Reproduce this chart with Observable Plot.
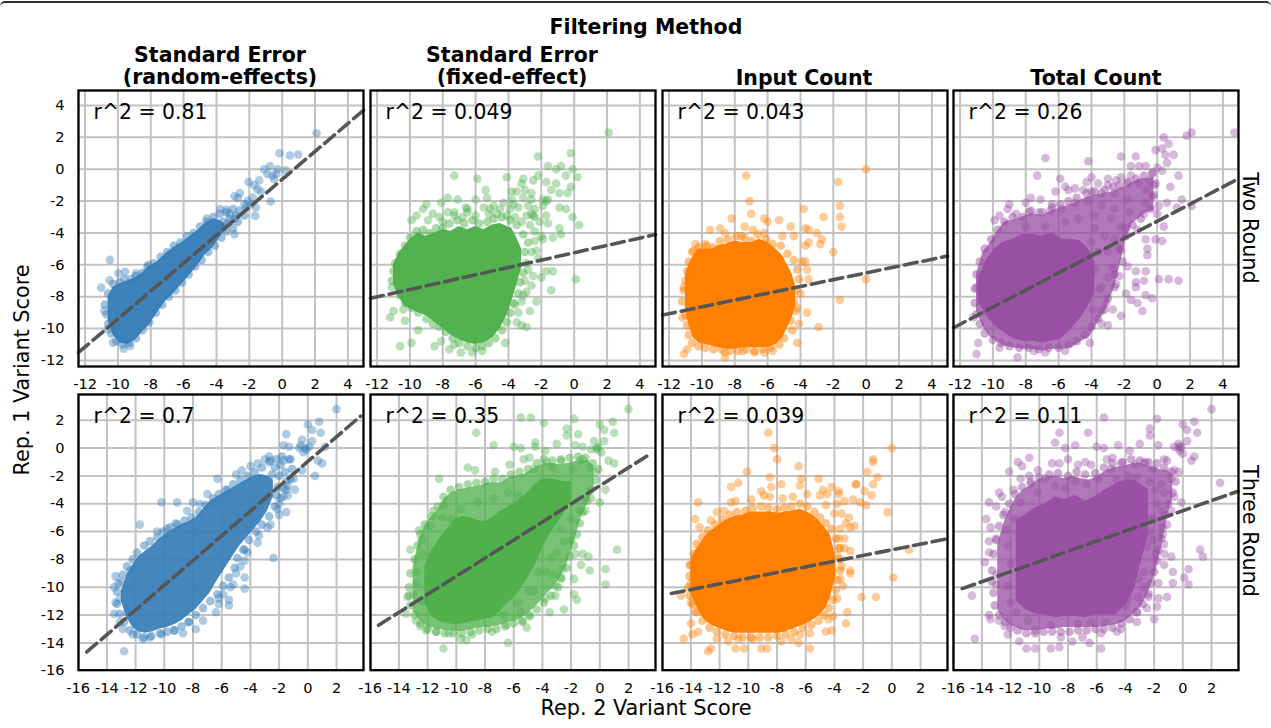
<!DOCTYPE html>
<html><head><meta charset="utf-8">
<script src="https://cdn.jsdelivr.net/npm/d3@7"></script>
<script src="https://cdn.jsdelivr.net/npm/@observablehq/plot@0.6"></script>
<style>
html,body{margin:0;padding:0;background:#fff}
#chart{position:relative;width:1271px;height:728px;overflow:hidden;font-family:"DejaVu Sans",sans-serif;color:#000}
#chart svg{position:absolute}
.t{position:absolute;white-space:nowrap;text-align:center;transform:translate(-50%,-50%);line-height:22px}
.b{font-weight:700}
#edge{position:absolute;left:0;right:0;top:1px;height:8px;border-top:2px solid #333;border-radius:5px 5px 0 0}
</style></head><body><div id="chart"><div id="edge"></div></div>
<script>
const colTitles = [["Standard Error","(random-effects)"],["Standard Error","(fixed-effect)"],["Input Count"],["Total Count"]];
const rowTitles = ["Two Round","Three Round"];
const colors = ["#377eb8","#4daf4a","#ff7f00","#984ea3"];
const r2Labels = [["0.81","0.049","0.043","0.26"],["0.7","0.35","0.039","0.11"]];
const topDomain = [-12.4,4.95], topDomainY = [-12.38,4.94];
const botDomain = [-15.98,3.88], botDomainY = [-15.96,3.85];
const topTicks = [-12,-10,-8,-6,-4,-2,0,2,4];
const botTicks = [-16,-14,-12,-10,-8,-6,-4,-2,0,2];
const coreOpacity = [[0.97,0.97,1,0.96],[0.93,0.96,1,0.95]];

const fits = [
 [[[-12.4,-11.5],[4.95,3.7]],[[-12.4,-8.1],[4.95,-4.1]],[[-12.4,-9.15],[4.95,-5.45]],[[-12.4,-9.95],[4.95,-0.6]]],
 [[[-15.4,-14.65],[3.68,2.3]],[[-15.42,-12.73],[3.55,-0.4]],[[-15.37,-10.45],[3.72,-6.55]],[[-15.37,-10.1],[3.85,-3.1]]]
];

// crowded core of each cloud, where the dots merge: x, lower edge, upper edge
const core11 = [[-10.6,-9.5,-8],[-10.3,-10.4,-7.4],[-9.9,-10.9,-7.2],[-9.4,-11,-7],[-8.9,-10.7,-6.8],[-8.5,-10.2,-6.5],[-8.1,-9.8,-6.1],[-7.6,-9,-5.8],[-7.1,-8.3,-5.3],[-6.6,-7.8,-4.9],[-6.1,-7.2,-4.6],[-5.6,-6.6,-4.2],[-5.1,-6,-3.8],[-4.7,-5.4,-3.4],[-4.2,-4.9,-3.1],[-3.8,-4.3,-3.2],[-3.5,-3.9,-3.4]];
const core12 = [[-11,-7.2,-6],[-10.7,-8,-5.3],[-10.3,-8.6,-4.8],[-9.9,-8.8,-4.3],[-9.5,-9,-4],[-9,-9.2,-4.2],[-8.5,-9.6,-4],[-8,-10,-3.8],[-7.5,-10.4,-3.9],[-7,-10.7,-3.6],[-6.5,-10.9,-3.8],[-6,-11,-3.6],[-5.5,-10.9,-3.8],[-5,-10.6,-3.5],[-4.5,-10,-3.4],[-4.1,-9.2,-3.6],[-3.8,-8.3,-3.7],[-3.5,-7.3,-4.3],[-3.2,-6.2,-5]];
const core13 = [[-11,-8.8,-6.6],[-10.8,-9.8,-6],[-10.5,-10.6,-5.4],[-10.2,-10.9,-5],[-9.8,-11,-5],[-9.4,-11.1,-5],[-9,-11.2,-4.8],[-8.5,-11.3,-4.7],[-8,-11.3,-4.5],[-7.5,-11.2,-4.6],[-7,-11.2,-4.6],[-6.5,-11.2,-4.4],[-6,-11.2,-4.6],[-5.5,-11,-5],[-5.1,-10.6,-5.4],[-4.8,-10,-6],[-4.5,-9.3,-6.6],[-4.3,-8.6,-7.3]];
const core14 = [[-10.9,-8.3,-6.9],[-10.4,-9.2,-5.7],[-9.9,-9.8,-5],[-9.4,-10.2,-4.6],[-8.8,-10.6,-4.4],[-8.2,-10.8,-4.1],[-7.6,-10.8,-4.1],[-7,-10.9,-4.2],[-6.4,-10.8,-4],[-5.8,-10.6,-4.4],[-5.2,-10,-4.4],[-4.7,-9.4,-4.5],[-4.2,-8.6,-5],[-3.8,-7.8,-5.8]];
const core21 = [[-13,-11,-10.3],[-12.6,-12.2,-9.1],[-12.2,-12.9,-8.4],[-11.8,-13.2,-7.8],[-11.3,-13.3,-7.4],[-10.8,-13.2,-7],[-10.3,-13,-6.5],[-9.8,-12.9,-6.1],[-9.3,-12.7,-5.8],[-8.8,-12.4,-5.5],[-8.3,-12,-5.3],[-7.8,-11.6,-5],[-7.3,-11,-4.4],[-6.8,-10.4,-3.8],[-6.3,-9.5,-3.5],[-5.8,-8.7,-3.2],[-5.3,-7.9,-2.9],[-4.8,-7.1,-2.6],[-4.3,-6.5,-2.3],[-3.8,-5.9,-2],[-3.3,-5.3,-1.9],[-2.8,-4.5,-2],[-2.4,-3.5,-2.3]];
const core22 = [[-12.2,-11.2,-8.5],[-11.7,-12.1,-7.3],[-11.1,-12.5,-6.4],[-10.6,-12.6,-5.8],[-10.1,-12.7,-5.1],[-9.5,-12.6,-4.9],[-9,-12.5,-5],[-8.5,-12.4,-5.2],[-8,-12.3,-5.3],[-7.5,-12.2,-5],[-7,-11.8,-4.6],[-6.5,-11.2,-4.3],[-6,-10.8,-4],[-5.5,-10.1,-3.6],[-5,-9.3,-3.2],[-4.5,-8.4,-2.6],[-4,-7.2,-2.2],[-3.5,-6.2,-2.2],[-3,-5.5,-2.3],[-2.5,-4.7,-2.4],[-2,-3.8,-2.4]];
const core23 = [[-14,-10.4,-8],[-13.7,-11.2,-7.4],[-13.3,-12,-6.8],[-12.9,-12.5,-6.2],[-12.4,-12.8,-5.8],[-11.9,-13,-5.4],[-11.4,-13.2,-5.1],[-10.9,-13.3,-4.9],[-10.4,-13.3,-4.8],[-9.9,-13.3,-4.6],[-9.4,-13.3,-4.6],[-8.9,-13.3,-4.6],[-8.4,-13.3,-4.6],[-7.9,-13.3,-4.7],[-7.4,-13.2,-4.6],[-6.9,-13,-4.5],[-6.4,-12.8,-4.4],[-5.9,-12.6,-4.6],[-5.4,-12.3,-4.9],[-5,-12,-5.3],[-4.6,-11.5,-5.8],[-4.3,-10.8,-6.2],[-4.1,-10,-7],[-3.9,-9.2,-8]];
const core24 = [[-11.6,-11,-5.2],[-11,-11.6,-4.8],[-10.3,-11.9,-4.3],[-9.6,-12,-4],[-8.9,-12.2,-3.5],[-8.2,-12.1,-3.7],[-7.5,-12.1,-3.4],[-6.8,-12.2,-3.8],[-6.1,-12,-3.5],[-5.4,-12,-3],[-4.7,-12,-2.6],[-4,-11.3,-2.3],[-3.4,-10.2,-2.3],[-2.9,-8.2,-2.6],[-2.4,-6.2,-3]];

// thinner part of the cloud around the core: x, lower edge, upper edge
const halo14 = [[-11,-8.9,-6.6],[-10.6,-9.9,-5.2],[-10.2,-10.5,-4.7],[-9.8,-10.8,-4],[-9.3,-11.1,-3.3],[-8.8,-11.2,-3.2],[-8.2,-11.3,-3],[-7.6,-11.3,-2.8],[-7,-11.4,-2.9],[-6.4,-11.3,-2.6],[-5.8,-11.3,-2.4],[-5.2,-11.2,-2.2],[-4.6,-10.8,-1.9],[-4.1,-10.5,-1.7],[-3.6,-9.6,-1.6],[-3.1,-8.8,-1.5],[-2.6,-7.4,-1.4],[-2.3,-6.2,-1.2],[-1.9,-4.4,-1.1],[-1.5,-3.4,-.8],[-1,-3,-.6],[-.6,-2.7,-.6],[-.2,-2.6,-.5]];
const halo22 = [[-13,-11.7,-8.5],[-12.6,-12.3,-6.6],[-12.2,-12.7,-5.6],[-11.8,-12.9,-5],[-11.3,-13,-4.5],[-10.8,-13.1,-3.6],[-10.3,-13.1,-3.2],[-9.8,-13.2,-3],[-9.3,-13.1,-2.9],[-8.8,-13,-2.8],[-8.3,-12.9,-2.7],[-7.8,-12.9,-2.5],[-7.3,-12.8,-2.5],[-6.8,-12.7,-2.5],[-6.3,-12.5,-2.1],[-5.8,-12.4,-2],[-5.3,-12.1,-1.9],[-4.8,-11.7,-1.6],[-4.3,-11.2,-1.3],[-3.8,-10.6,-1.1],[-3.3,-10.1,-1.1],[-2.8,-9.4,-1.2],[-2.3,-8.4,-1.1],[-1.8,-6.8,-1],[-1.3,-5,-.9],[-.8,-3.9,-.9],[-.4,-3,-1.4]];
const halo24 = [[-12.9,-11.6,-7],[-12.5,-12.3,-5.5],[-12.1,-12.7,-4.5],[-11.6,-12.9,-3.5],[-11.1,-13.1,-3],[-10.6,-13.1,-2.7],[-10.1,-13.1,-2.3],[-9.5,-13,-2.1],[-8.9,-13,-2],[-8.3,-12.9,-2.2],[-7.7,-12.9,-2],[-7.1,-12.9,-2.2],[-6.5,-12.9,-2.3],[-5.9,-12.9,-2],[-5.3,-12.8,-1.6],[-4.7,-12.7,-1.4],[-4.1,-12.5,-1.3],[-3.5,-12,-1.1],[-2.9,-11.4,-1.1],[-2.4,-10.4,-1.3],[-1.9,-9,-1.4],[-1.5,-7.2,-1.6],[-1.1,-5,-1.6],[-.7,-3.6,-1.9]];

// overlapping dots along the outline of each crowded region: x, y
const rim11 = [[-10.6,-7.8],[-10.3,-7.2],[-9.9,-7.1],[-9.6,-6.9],[-9.2,-6.9],[-8.9,-6.7],[-8.5,-6.5],[-8.2,-6.1],[-7.8,-5.9],[-7.4,-5.5],[-7,-5.2],[-6.6,-4.8],[-6.2,-4.6],[-5.8,-4.2],[-5.4,-4],[-5,-3.6],[-4.6,-3.3],[-4.2,-3],[-3.8,-2.8],[-3.4,-2.7],[-3,-2.5],[-2.6,-2.6],[-2.3,-2.9],[-2.2,-2.4],[-2.7,-3.3],[-3,-3.7],[-3.4,-3.9],[-3.7,-4.3],[-4.1,-4.8],[-4.5,-5.2],[-4.9,-5.7],[-5.3,-6.1],[-5.7,-6.6],[-6.1,-7.1],[-6.5,-7.6],[-6.9,-8],[-7.3,-8.5],[-7.7,-9],[-8.1,-9.6],[-8.5,-10.1],[-8.9,-10.6],[-9.3,-10.9],[-9.7,-11],[-10.1,-10.8],[-10.4,-10.3],[-10.6,-9.7],[-10.7,-9.1],[-10.8,-8.5],[-3.2,-3.1],[-3.6,-3.3],[-2.8,-2.9],[-3.3,-3.4],[-2.9,-3.1],[-3.6,-3.7]];
const rim12 = [[-11.1,-7],[-11,-6.4],[-10.9,-5.9],[-10.6,-5.3],[-10.3,-4.8],[-10,-4.3],[-9.6,-3.9],[-9.2,-3.8],[-8.8,-4],[-8.4,-3.7],[-8,-3.7],[-7.6,-3.4],[-7.1,-3.2],[-6.7,-3.4],[-6.2,-3.2],[-5.8,-3.4],[-5.3,-3.3],[-4.9,-3.1],[-4.4,-3],[-3.9,-3.2],[-3.5,-3.5],[-3.1,-4.1],[-2.8,-4.6],[-3,-5.2],[-2.9,-5.9],[-3.1,-6.5],[-3.3,-7.1],[-3.4,-7.8],[-3.7,-8.4],[-3.9,-9],[-4.1,-9.6],[-4.4,-10.1],[-4.8,-10.6],[-5.2,-10.9],[-5.6,-11.1],[-6,-11.2],[-6.5,-11.1],[-7,-10.9],[-7.4,-10.6],[-7.8,-10.2],[-8.2,-9.9],[-8.6,-9.7],[-9,-9.4],[-9.5,-9],[-9.9,-8.7],[-10.3,-8.4],[-10.6,-7.9]];
const rim13 = [[-11.2,-8.3],[-11.1,-7.6],[-11,-7],[-10.9,-6.4],[-10.8,-5.8],[-10.6,-5.2],[-10.2,-4.9],[-9.7,-4.8],[-9.3,-4.9],[-8.9,-4.5],[-8.4,-4.4],[-7.9,-4.2],[-7.4,-4.3],[-7,-4.5],[-6.6,-4.1],[-6.1,-4.4],[-5.7,-4.7],[-5.2,-4.8],[-4.8,-5.3],[-4.4,-5.7],[-4.2,-6.3],[-4.1,-6.9],[-4.3,-7.6],[-4.4,-8.3],[-4.3,-8.9],[-4.6,-9.5],[-4.5,-10.1],[-5,-10.6],[-5.3,-11],[-5.8,-11.2],[-6.3,-11.3],[-6.8,-11.4],[-7.3,-11.3],[-7.8,-11.4],[-8.3,-11.4],[-8.8,-11.3],[-9.3,-11.3],[-9.8,-11.2],[-10.2,-11.1],[-10.6,-10.9],[-10.8,-10.4],[-10.9,-9.8],[-11,-9.2]];
const rim14 = [[-11.1,-8.4],[-11.1,-7.5],[-11,-6.6],[-10.8,-5.8],[-10.5,-5],[-10.1,-4.4],[-9.7,-3.8],[-9.3,-3.3],[-8.8,-3],[-8.2,-3],[-7.7,-2.6],[-7,-2.7],[-6.4,-2.4],[-5.9,-2.2],[-5.4,-2],[-4.9,-1.8],[-4.3,-1.5],[-3.8,-1.4],[-3.2,-1.3],[-2.7,-1.1],[-2.3,-1],[-1.8,-.8],[-1.3,-.6],[-.8,-.4],[-.3,-.3],[-.1,-.9],[-.3,-1.7],[-.4,-2.5],[-1,-3.1],[-1.5,-3.5],[-1.9,-4.2],[-2.3,-5],[-2.1,-5.8],[-2.6,-6.6],[-2.6,-7.4],[-3,-8.1],[-3.2,-8.8],[-3.6,-9.4],[-4,-9.9],[-4.4,-10.4],[-4.9,-10.8],[-5.4,-11],[-6,-11.2],[-6.6,-11.2],[-7.2,-11.3],[-7.8,-11.2],[-8.4,-11.2],[-9,-11.1],[-9.5,-10.9],[-10,-10.7],[-10.5,-10.3],[-10.8,-9.7],[-11,-9.1]];
const rim21 = [[-13.3,-10.3],[-13.2,-9.7],[-12.9,-9.1],[-12.6,-8.5],[-12.2,-8],[-11.9,-7.5],[-11.4,-7],[-11,-6.7],[-10.5,-6.4],[-10.1,-6],[-9.6,-5.7],[-9.1,-5.5],[-8.6,-5.2],[-8.1,-5],[-7.6,-4.6],[-7.1,-4.1],[-6.6,-3.6],[-6.2,-3.3],[-5.7,-3],[-5.2,-2.6],[-4.7,-2.3],[-4.2,-2],[-3.7,-1.7],[-3.2,-1.4],[-2.7,-1],[-2.2,-.8],[-1.8,-.6],[-1.3,-.8],[-1.1,-1.5],[-1.2,-2.2],[-1.5,-3],[-1.9,-3.6],[-2.3,-4.2],[-2.7,-4.9],[-3.2,-5.5],[-3.6,-6],[-4.1,-6.6],[-4.5,-7.3],[-4.9,-7.9],[-5.1,-8.6],[-5.5,-9.3],[-5.9,-9.9],[-6.3,-10.5],[-6.8,-11],[-7.3,-11.5],[-7.8,-12],[-8.3,-12.5],[-8.8,-12.8],[-9.3,-13.1],[-9.8,-13.2],[-10.3,-13.3],[-10.9,-13.5],[-11.4,-13.6],[-11.9,-13.4],[-12.4,-13.1],[-12.8,-12.5],[-13.1,-11.9],[-13.3,-11.2],[-2.3,-1.4],[-1.9,-1.2],[-1.6,-1.7],[-2,-2],[-1.5,-2.4],[-2.1,-2.8],[-1.7,-2.9],[-2.5,-1.9],[-2.2,-3.4]];
const rim22 = [[-13.3,-10],[-13.2,-9],[-12.9,-8],[-12.7,-7],[-12.5,-6.2],[-12.2,-5.5],[-11.7,-4.9],[-11.3,-4.2],[-10.9,-3.5],[-10.4,-3],[-9.8,-2.8],[-9.2,-2.6],[-8.6,-2.5],[-8,-2.4],[-7.4,-2.2],[-6.8,-2.2],[-6.2,-1.9],[-5.6,-1.7],[-5,-1.5],[-4.4,-1.1],[-3.9,-.8],[-3.3,-.9],[-2.7,-.9],[-2.1,-.7],[-1.5,-.6],[-1,-.7],[-.5,-1.1],[-.1,-1.5],[-.3,-2.3],[-.6,-3],[-.9,-3.8],[-1.2,-4.6],[-1.4,-5.4],[-1.6,-6.2],[-1.8,-7],[-2.1,-7.8],[-2.3,-8.6],[-2.7,-9.3],[-2.9,-10],[-3.4,-10.6],[-3.9,-11.1],[-4.4,-11.6],[-4.9,-12],[-5.4,-12.4],[-6,-12.6],[-6.6,-12.8],[-7.2,-13],[-7.8,-13],[-8.4,-13.1],[-9,-13.2],[-9.6,-13.3],[-10.2,-13.3],[-10.8,-13.3],[-11.4,-13.2],[-12,-13],[-12.5,-12.6],[-12.9,-12],[-13.2,-11.3],[-13.3,-10.6]];
const rim23 = [[-14.2,-10],[-14.1,-9.2],[-14,-8.4],[-13.8,-7.6],[-13.6,-6.9],[-13.2,-6.4],[-12.8,-5.9],[-12.3,-5.5],[-11.8,-5.1],[-11.3,-4.8],[-10.8,-4.6],[-10.2,-4.5],[-9.7,-4.3],[-9.1,-4.2],[-8.6,-4.3],[-8,-4.4],[-7.5,-4.3],[-7,-4.2],[-6.4,-4],[-5.9,-4.2],[-5.4,-4.6],[-5,-5],[-4.6,-5.4],[-4.2,-5.8],[-3.9,-6.5],[-3.7,-7.2],[-3.6,-8],[-3.6,-8.8],[-3.8,-9.5],[-3.9,-10.2],[-4.1,-10.9],[-4.4,-11.5],[-4.7,-12],[-5.1,-12.4],[-5.6,-12.7],[-6.2,-12.9],[-6.8,-13.2],[-7.4,-13.4],[-8,-13.5],[-8.6,-13.6],[-9.2,-13.6],[-9.8,-13.6],[-10.4,-13.6],[-11,-13.5],[-11.6,-13.4],[-12.2,-13.2],[-12.7,-12.9],[-13.2,-12.4],[-13.6,-11.8],[-13.9,-11.2],[-14.1,-10.6]];
const rim24 = [[-13.3,-8.8],[-13.2,-7.6],[-13,-6.6],[-12.8,-5.6],[-12.5,-4.8],[-12.1,-4],[-11.7,-3.3],[-11.2,-2.8],[-10.6,-2.4],[-10,-2.1],[-9.3,-1.9],[-8.7,-1.8],[-8,-2],[-7.4,-1.7],[-6.8,-1.9],[-6.1,-1.8],[-5.5,-1.4],[-4.9,-1.1],[-4.2,-1],[-3.6,-.8],[-3,-.9],[-2.4,-1],[-1.8,-1.1],[-1.3,-1.4],[-.8,-1.7],[-.5,-2.4],[-.7,-3.2],[-1,-4],[-1.2,-4.8],[-1.4,-5.7],[-1.5,-6.5],[-1.7,-7.3],[-1.8,-8.1],[-2,-8.9],[-2.2,-9.7],[-2.4,-10.5],[-2.8,-11.2],[-3.2,-11.8],[-3.7,-12.3],[-4.3,-12.6],[-4.9,-12.9],[-5.5,-13],[-6.1,-13],[-6.7,-13.1],[-7.3,-13.1],[-7.9,-13.2],[-8.5,-13.2],[-9.1,-13.2],[-9.7,-13.2],[-10.3,-13.3],[-10.9,-13.3],[-11.5,-13.1],[-12,-12.9],[-12.4,-12.5],[-12.8,-12],[-13.1,-11.3],[-13.2,-10.4],[-13.3,-9.6]];

// single dots read one by one: x, y
const pts11 = [[2.09,2.26],[-.16,1],[.47,.86],[.97,.92],[-1.1,0],[-.75,.2],[-.28,0],[.22,-.06],[-.49,-.63],[-.6,-.4],[-.9,-.3],[-.35,-.3],[-2.05,-.8],[-1.4,-.7],[-1.5,-1.25],[-1.7,-1],[-1.3,-1.4],[-2.9,-1.7],[-2.57,-1.5],[-2.7,-1.8],[-.7,-2.03],[-1.8,-1.78],[-1.64,-2.93],[-1.9,-2.2],[-2.1,-2],[-2.3,-2.2],[-1.6,-2.4],[-3.77,-2.5],[-3.4,-2.55],[-3.2,-2.8],[-2.9,-4.08],[-4.6,-3.1],[-10.48,-5.69],[-8.15,-6],[-9.56,-6.44],[-9.97,-6.53],[-10.5,-6.97],[-11.02,-7.43],[-8.9,-6.53],[-10.82,-8.89],[-10.6,-10.04],[-10.3,-10.88],[-9.65,-11.26],[-9.26,-11.09]];
const pts12 = [[2.1,2.3],[-2.2,.8],[-.2,1],[-1.6,.2],[-1.1,0],[-.8,.2],[-.1,0],[.2,-.5],[-.5,-.4],[-7.3,-.4],[-5.9,-.6],[-4.1,-.5],[-3.1,-.6],[-2.2,-.4],[-2.5,-.7],[-3.2,-.9],[-1.7,-.8],[-1.1,-.9],[-.2,-1.1],[-1.4,-1.3],[-.9,-1.5],[-.4,-1.5],[-5.4,-1.3],[-5.3,-1.8],[-3.8,-1.4],[-3.5,-1.4],[-3,-1.3],[-2.6,-1.5],[-3.1,-1.8],[-3.8,-1.9],[-2.6,-1.9],[-1.9,-1.9],[-1.6,-1.9],[-1.7,-2],[-7.7,-1.8],[-7.1,-1.9],[-8.1,-2.1],[-9,-2.2],[-9.2,-2.5],[-9.6,-2.9],[-9.9,-3.2],[-8.6,-2.8],[-8.2,-3],[-7.7,-2.7],[-7.3,-2.7],[-6.5,-2.5],[-6.5,-2.7],[-6,-1.9],[-5.5,-2.4],[-4.9,-2.3],[-4.3,-2.1],[-3.9,-2.5],[-3.4,-2.4],[-2.8,-2.3],[-2.5,-2.9],[-2.4,-3],[-2.6,-2.8],[-1.7,-2.9],[-.9,-2.4],[-.5,-2.5],[-.1,-3],[.3,-3.5],[-.8,-4.1],[-.9,-3.7],[-1.9,-4.4],[-2,-4.2],[-2.3,-5.1],[-1.3,-6.4],[-1.7,-6.4],[-2,-6.8],[.1,-6.9],[-1.4,-7.6],[-2.3,-8.3],[-2.7,-8.9],[-2.6,-7.3],[-3.1,-7.9],[-3.6,-8.5],[-2.9,-9.9],[-3.5,-9.6],[-3.2,-9.8],[-4.2,-10.9],[-10.6,-11.1],[-9.9,-10.9],[-11.2,-9.3],[-11,-8.9],[-11.1,-7.4],[-10.8,-6.7],[-10.4,-8.8],[-10.3,-9.5],[-9.5,-10.1],[-8.5,-11.1],[-8.1,-10.8],[-7.6,-11.3],[-6.9,-11.5],[-6.2,-11.5],[-5.6,-11.4],[-7.3,-11],[-4.7,-2.8],[-4.1,-2.9],[-3.6,-3],[-3.2,-3.3],[-2.7,-3.5],[-2.4,-3.9],[-2.1,-3.3],[-2.9,-2.9],[-1.6,-3.4],[-1.3,-4.3],[-2.4,-4.5],[-2.6,-5.2],[-2.2,-5.6],[-2.8,-6.3],[-2.5,-6.7],[-3,-7],[-2.9,-7.7],[-3.2,-8.3],[-3.4,-9],[-8.9,-3.2],[-8,-3.3],[-7.3,-2.9],[-6.8,-3],[-6,-2.9],[-5.2,-2.8],[-6.6,-2.4],[-5.1,-2.5],[-4.5,-2.5],[-2.4,-2.5],[-1.9,-2.3],[-3.7,-2.2]];
const pts13 = [[0,0],[-1.7,-.8],[-7.3,-.4],[-7.1,-2],[-1.6,-2.3],[-1.6,-3],[-1.5,-3.6],[-3.8,-2.5],[-2.6,-3],[-7,-2.8],[-8.2,-3.1],[-6.2,-3.1],[-6,-3.3],[-5.3,-3.2],[-4.6,-3.6],[-7.4,-3.6],[-6.9,-3.8],[-9.5,-3.8],[-8.9,-3.7],[-8.6,-4],[-3.7,-3.7],[-3.5,-3.8],[-3,-4],[-2.7,-4.4],[-2.8,-4.7],[-3.5,-4.6],[-3.7,-4.8],[-2,-5.2],[-4.4,-4.2],[-5.1,-4.2],[-6.2,-4],[-7.6,-4.2],[-9.8,-4.7],[-10.4,-4.7],[-10.5,-5.1],[-11.1,-7.4],[-11.2,-9.3],[-11.1,-11.6],[-10.9,-11.3],[-8.6,-11.8],[-8.6,-11.5],[-7.5,-11.4],[-6.8,-11.5],[-6.2,-11.5],[-5.7,-11.4],[-4.2,-10.9],[-4.1,-9.7],[-2.9,-9.9],[-3.6,-9],[-4.2,-8.7],[-4,-7.8],[-1.6,-8.2],[0,-6.9],[-3.5,-6.9],[-3.6,-6.3],[-3.9,-5.8],[-3.7,-5.8]];
const pts14 = [[4.7,2.3],[2.1,2.3],[1.8,2.1],[.4,2],[.7,1.6],[.3,1.3],[-.1,1.2],[1,.9],[.5,.9],[.6,.4],[-2.2,.8],[-1.3,.8],[-6.8,.7],[-4.2,.5],[-1.6,.2],[-1.1,.2],[-.7,.2],[0,.1],[.3,-.1],[-.3,-.2],[-.5,-.7],[1.3,-.4],[-2.2,-.5],[-1.6,-.4],[-2.5,-.7],[-3,-.6],[-4,-.5],[-5.9,-.6],[-7.3,-.4],[.8,-1.1],[-1.8,-.9],[-1.1,-.9],[-.2,-1],[-3.6,-.9],[-3,-1],[-4.3,-.8],[-5.6,-1.1],[-5,-1.2],[-6.2,-1.4],[-5.4,-1.3],[-.7,-1.3],[-.2,-1.6],[1.5,-1.9],[.6,-2.1],[2.1,-2.3],[1.2,-2.4],[.1,-2.3],[-.7,-2.1],[-7.7,-1.8],[-7.1,-1.9],[-8,-2.1],[-9,-2.2],[-9.1,-2.5],[-9.6,-2.9],[-9.9,-3.2],[-8.6,-2.8],[-7.8,-2.7],[0,-2.8],[.4,-3.6],[-.1,-4.4],[.3,-4.5],[-.7,-4.4],[-.6,-5],[-.6,-5.4],[-1.2,-3.8],[-2.2,-5.1],[-.7,-6.4],[-1.3,-6.4],[.1,-6.9],[.7,-6.9],[1.3,-7],[-.8,-7],[-1.3,-7.1],[-1.3,-7.4],[-.7,-7.9],[-.3,-8.1],[-1.9,-7.8],[-1.6,-8.2],[-1.2,-8.4],[-.9,-8.9],[-2.2,-9.2],[-2.7,-8.8],[-3.1,-8.4],[-2.5,-7.2],[-2.3,-6.7],[-2.7,-6.2],[-1.8,-6.1],[-3.4,-8.9],[-3,-9.8],[-3.4,-9.7],[-4.1,-10.9],[-11,-11.6],[-10.9,-10.9],[-9.6,-11.2],[-8.5,-11.8],[-7.5,-11.4],[-6.8,-11.5],[-5.6,-11.4],[-11,-7.4],[-11.2,-9.3],[-4.5,-1.3],[-4,-1.4],[-3.4,-1.5],[-2.6,-1.5],[-1.8,-1.9],[-6.4,-2.2],[-7.2,-2.7],[-6.5,-2.6],[-5.8,-2.5],[-5,-2.1],[-4.2,-2],[-3.4,-2.3],[-2.6,-2.5],[-1.7,-2.7],[-.8,-2.8],[-8,-3.6],[-6.8,-3.6],[-5.6,-3.3],[-4.8,-3.1],[-3.8,-2.9],[-2.8,-3.1],[-2.2,-3.6],[-3.8,-3.7],[-3.2,-4.2],[-2.6,-4.4],[-4,-4.6],[-3.6,-5.2],[-3,-5.2],[-3.8,-6.3],[-3.5,-7.5],[-3.9,-8.8],[-3,-6.8],[-3.4,-7.4],[-1.9,-3.7]];
const pts21 = [[2,2.8],[.8,1.9],[0,1.7],[.3,1.3],[.9,1.1],[-1.5,1],[-.4,.6],[.3,.5],[-1.7,.2],[-1.3,.1],[-.6,0],[-.2,0],[-.3,-.3],[.1,.1],[-.1,-.1],[-.5,.2],[1.2,.1],[.7,-.9],[1,-1.1],[-.4,-1.6],[.5,-2],[-1.2,-.8],[-1.7,-.9],[-2.7,-.6],[-2.6,-.9],[-6.3,-2.2],[-1,-2.2],[-.9,-3],[-1.4,-3.4],[-1.5,-4.6],[-2.1,-4.4],[-2,-4.8],[-2.8,-5.7],[-3.4,-6.3],[-2.4,-7.9],[-4.4,-7.3],[-4.4,-8.1],[-4.7,-8.5],[-4.4,-9.3],[-4.4,-10.1],[-5.4,-10],[-5.5,-10.9],[-5.5,-11.3],[-6.2,-10.8],[-6.2,-11.2],[-6.4,-11.8],[-7.3,-12.4],[-7.8,-13],[-8.7,-13.3],[-9.3,-13.1],[-10.2,-13.4],[-11,-13.6],[-11.5,-13.7],[-12.2,-13.4],[-12.8,-14.6],[-12.9,-13],[-13.5,-11.9],[-13.4,-11.1],[-13.5,-10],[-13.4,-9.2],[-13,-9.6],[-12.4,-8.8],[-11.7,-5.5],[-10.5,-6],[-10.2,-3.9],[-9.1,-3.9],[-8,-3.9],[-7.5,-4],[-8.4,-4.5],[-9.2,-5.4],[-9.8,-5.8],[-7,-3.3],[-5.6,-3],[-13.1,-10.8],[-12.6,-11.8],[-13.1,-12.5],[-8.3,-12.5],[-5,-1.9],[-4.6,-1.6],[-4,-1.3],[-3.5,-1.1],[-3,-.8],[-1.4,-2.7],[-1.7,-3.5],[-2,-4],[-2.6,-5.5],[-3.5,-6.8],[-4.2,-7.5],[-5,-9],[-5.2,-9.8],[-5.9,-10.5]];
const pts22 = [[2,2.8],[-5.5,2.2],[-4.8,2.2],[-3.9,1.8],[-1.8,2.1],[0,1.7],[.9,1.9],[.3,1.3],[1,1.1],[-8.6,1.1],[-2.3,1.4],[-2.3,.9],[-1.5,1],[-7.4,.2],[-6,.1],[-5.5,0],[-4.5,.4],[-4.5,.1],[-3.8,-.2],[-3,.3],[-1.7,.2],[-1.2,.1],[-.4,.5],[.3,.5],[-.6,-.1],[-.2,0],[.1,-.3],[-.2,-.1],[-.1,.1],[.6,-.9],[1,-1.1],[-5.3,-.8],[-4.9,-.7],[-6.3,-1.2],[-9.2,-1.4],[-8.7,-1.6],[-7.3,-1.7],[-11.2,-2.2],[-2.7,-.8],[-1.2,-.8],[-1.4,-.9],[-.3,-1.7],[.4,-3],[0,-3.9],[1.2,-7.3],[.4,-8.7],[.4,-9.8],[-.7,-8.8],[-1.3,-8.4],[-.8,-7.8],[-1.2,-7.6],[-1.8,-9.4],[-1.8,-10.5],[-1.6,-10.9],[-2.5,-11.6],[-3.1,-10.6],[-3.5,-11.8],[-4.9,-12.1],[-5.4,-12.5],[-5.1,-12.9],[-6.5,-12.7],[-6.4,-14],[-7.5,-13.2],[-8.9,-13.4],[-9.3,-13.8],[-9.7,-13.7],[-10.5,-13.3],[-10.9,-14.4],[-11.4,-13.2],[-12.1,-13.1],[-12.5,-12.8],[-12.8,-12.4],[-13.5,-11.9],[-13.4,-10.7],[-13,-10.5],[-12.8,-9.7],[-12.8,-8.9],[-13.2,-7.3],[-12.4,-6.6],[-12.6,-5.9],[-11.6,-4.5],[-10.9,-4.1],[-8.5,-3.9],[-7.4,-3.6],[-9.7,-4.4],[-10.4,-5.1],[-6.4,-3.2],[-5.7,-3.4],[-4.6,-1.5],[-3.7,-1],[-3.3,-1.4],[-4.3,-8.9],[-3.7,-8.9],[-3.2,-9.1],[-3.1,-9.9],[-2.7,-9.4],[-4.6,-10.3],[-3,-7.5],[-2.5,-6.7],[-2.7,-5.8],[-3.4,-7.9],[-1.9,-1.5],[-.7,-1.4],[-.6,-3.6],[-1,-4.5],[-1.4,-4.5],[-2,-5.1],[-2,-6.6],[-1.7,-7.6],[-2.6,-8.7],[-3.8,-10.8],[-5,-10.3],[-5.7,-11.1],[-6.7,-12],[-5.5,-11.8],[-11,-5],[-11.8,-5.6],[-12.4,-7.6],[-11.9,-9.5],[-12.3,-11]];
const pts23 = [[-8.6,1.1],[-8.2,0],[-8,-.8],[0,0],[-1.3,-.8],[-1.3,-1],[-6.5,-1.3],[-10.1,-1.7],[-1.7,-1.7],[-1,-2.1],[-8.5,-2.1],[-6.3,-2.2],[-5.1,-2.2],[-7.7,-2.6],[-8.4,-2.8],[-10.7,-2.5],[-11.2,-2.8],[-6.4,-2.7],[-2.5,-2.6],[-2.5,-2.6],[-1.3,-2.6],[-4.2,-2.8],[-3.7,-3.1],[-3.7,-3.3],[-4.8,-3],[-1.9,-3.1],[-1.4,-3.4],[-9.1,-3.1],[-8.9,-3.4],[-9.8,-3.7],[-8.5,-3.5],[-7.6,-3.6],[-6.9,-3.5],[-5.9,-3.3],[-4.5,-3.3],[-5,-3.4],[-2.7,-3.7],[-2.2,-3.9],[-1.8,-4.1],[-3.3,-3.8],[-3.8,-4],[-4.6,-4.1],[-13.5,-3.9],[-10.9,-3.8],[-11.2,-3.9],[-12.2,-4.6],[-13.7,-5.1],[-12.6,-5.2],[-11.7,-4.5],[-13.4,-5.7],[-14.1,-8.4],[-14,-9.7],[-14.7,-10.6],[-14,-11.1],[-13.7,-11.7],[-14,-12.6],[-13.9,-13.4],[-14.5,-13.7],[-13.5,-13.2],[-12.8,-14.6],[-12.6,-14.4],[-12.2,-13.7],[-11.4,-13.9],[-10.9,-14.4],[-10.3,-14.4],[-9.1,-14.4],[-8.7,-14.4],[-7.7,-13.9],[-7,-13.7],[-6.5,-14],[-5.7,-14.4],[-5.7,-13.3],[-6.4,-13.4],[-4.6,-13.2],[-4.2,-13.1],[-4.4,-12.3],[-3.2,-12.6],[-3.1,-11.8],[-4.1,-12.1],[-3.8,-10.8],[-2.1,-10.7],[-1.1,-10.7],[.1,-9.3],[1.2,-7.3],[-.3,-4.6],[-3.4,-9.9],[-3.6,-9.4],[-2.9,-8.8],[-2.9,-9],[-3.5,-8.5],[-3.3,-7.2],[-2.9,-7.4],[-3.6,-7.2],[-3.8,-7.7],[-3.3,-6.5],[-3.7,-6.5],[-2.9,-5.7],[-2.6,-5.6],[-3.2,-5.4],[-3.6,-5.8],[-3,-5],[-3.5,-4.7],[-4,-4.7],[-9.7,-13.7],[-10.7,-13.7]];
const pts24 = [[2,2.8],[-5.5,2.2],[-1.8,2.1],[.8,1.9],[0,1.7],[.3,1.3],[1,1.1],[-2.3,1.4],[-2.3,.9],[-8.6,1.1],[-6.6,1.1],[-8.9,.4],[-8.2,0],[-7.5,.2],[-6,.1],[-5.5,0],[-4.5,.2],[-3,.3],[-1.7,.2],[-3.7,-.2],[-.3,.3],[.3,.5],[-.2,-.2],[-.6,.1],[0,-.4],[-.3,0],[-.1,.1],[-.2,.1],[-1.3,-.8],[-1.1,-.9],[-2.7,-1],[-2.6,-1.1],[.8,-.6],[.6,-.9],[-4.9,-.7],[-5.3,-.8],[-8,-.8],[-10.7,-.7],[-11.5,-1],[-11.2,-1.3],[-12.1,-1.7],[-10.1,-1.6],[-9.1,-1.1],[-8.6,-1.1],[-7.3,-1.2],[-6.8,-1],[-6.4,-1.2],[-.6,-1.6],[-.3,-1.7],[2.6,-2.5],[-11.3,-2.2],[-10.7,-2],[-10.6,-2.6],[-11.8,-3],[-12.8,-3.2],[-12.6,-3.5],[-13.5,-3.9],[-13,-4.2],[-12.4,-4.6],[-13.7,-5.1],[-13.4,-5.7],[-13,-6.5],[-13.5,-6.7],[-13.5,-7.5],[-13.8,-8.2],[-13,-9.1],[-13,-9.8],[-14.7,-10.6],[-13.5,-12],[-13.4,-12.3],[-12.8,-12.4],[-12.4,-12.8],[-12.2,-13.4],[-14.5,-13.7],[-11.4,-13.9],[-10.9,-14.4],[-10.3,-14.4],[-9.2,-14.4],[-8.6,-14.3],[-8.5,-13.6],[-7.7,-13.9],[-7,-13.6],[-6.5,-14],[-5.7,-14.4],[-5.7,-13.3],[-4.6,-13.2],[-4.3,-13],[-3.2,-12.5],[-2,-12.3],[-2.5,-11.5],[-1.8,-11.4],[-1.7,-10.8],[-1.1,-10.7],[-2.4,-10.7],[-2.7,-10],[-1.7,-9.7],[-.7,-9.7],[.4,-9.8],[.1,-9.3],[.4,-8.7],[-.7,-8.9],[-1.3,-8.4],[-.8,-7.8],[-1.3,-7.6],[-1.9,-7.6],[1.2,-7.3],[1.4,-7.8],[-1.3,-6.9],[-1.4,-6.2],[-1.1,-5.5],[-2.1,-6.6],[-1.5,-4.5],[-.8,-4.5],[-.1,-3.9],[-10.3,-13.1],[-9.6,-2.2],[-8.2,-2.9],[-6.7,-2.6],[-4.6,-2.3],[-3.2,-2.1],[-2.3,-2.4],[-1.9,-3],[-1.8,-4],[-2.2,-5],[-2.5,-7.1],[-2.7,-8.9],[-3.1,-9.4],[-3.1,-10.7],[-3.8,-10.8],[-4,-11.3],[-3.2,-11.8],[-12.2,-9.9],[-12,-8.3],[-12.2,-7],[-12.3,-5.9],[-11.7,-5.1],[-11.3,-3.9],[-10.1,-3.2],[-8.9,-2.7],[-7.5,-2.4],[-5.9,-2.2],[-5,-1.5],[-3.8,-2],[-12,-11.1],[-11.6,-11.8],[-10.8,-12.4],[-9.2,-12.7],[-7.3,-12.6],[-6.4,-12.5],[-5.4,-12.5],[-2.7,-6.5],[-2.3,-6],[-2,-5.1],[-1.3,-3.2],[-.6,-3.5],[-1.5,-2.6],[-.8,-2.2],[-2.1,-1.5],[-3.3,-1.2],[-4.3,-1.1]];

const cores = [[core11,core12,core13,core14],[core21,core22,core23,core24]];
const halos = [[[],[],[],halo14],[[],halo22,[],halo24]];
const rims = [[rim11,rim12,rim13,rim14],[rim21,rim22,rim23,rim24]];
const points = [[pts11,pts12,pts13,pts14],[pts21,pts22,pts23,pts24]];

const chart = document.getElementById("chart");
const frameW = 285, ML = 40, MR = 10, MT = 10, MB = 35;
const colLeft = [78,370,661.7,953.3];
const rowTop = [90,394.3], rowH = [276,275.7];

function panel(row,col){
  const color = colors[col];
  const fit = fits[row][col], core = cores[row][col], halo = halos[row][col];
  const band = (data,op) => Plot.areaY(data,{x:d=>d[0],y1:d=>d[1],y2:d=>d[2],fill:color,fillOpacity:op});
  const svg = Plot.plot({
    width: frameW+ML+MR, height: rowH[row]+MT+MB,
    marginLeft: ML, marginRight: MR, marginTop: MT, marginBottom: MB,
    style:{background:"transparent",fontFamily:"DejaVu Sans",color:"#000"},
    x:{domain: row? botDomain: topDomain, axis:null},
    y:{domain: row? botDomainY: topDomainY, axis:null},
    marks:[
      Plot.gridX(row?botTicks:topTicks,{stroke:"#c2c2c2",strokeOpacity:1,strokeWidth:2}),
      Plot.gridY(row?[-14,-12,-10,-8,-6,-4,-2,0,2]:topTicks,{stroke:"#c2c2c2",strokeOpacity:1,strokeWidth:2}),
      Plot.axisX(row?botTicks:topTicks,{tickSize:0,tickPadding:12,tickFormat:d=>String(d),label:null,fontSize:14.6,fill:"#000"}),
      col===0?Plot.axisY(row?[-16,-14,-12,-10,-8,-6,-4,-2,0,2]:topTicks,{tickSize:0,tickPadding:14,tickFormat:d=>String(d),label:null,fontSize:14.6,fill:"#000"}):null,
      halo.length?band(halo,0.76):null,
      band(core,coreOpacity[row][col]),
      Plot.dot(rims[row][col],{x:d=>d[0],y:d=>d[1],r:4.3,fill:color,fillOpacity:0.48,stroke:"none"}),
      Plot.dot(points[row][col],{x:d=>d[0],y:d=>d[1],r:4.3,fill:color,fillOpacity:0.4,stroke:"none"}),
      Plot.line(fit,{x:d=>d[0],y:d=>d[1],stroke:"#555",strokeWidth:3.6,strokeDasharray:"13,6"}),
      Plot.text(["r^2 = "+r2Labels[row][col]],{frameAnchor:"top-left",dx:15,dy:14,textAnchor:"start",lineAnchor:"top",fontSize:20.4,fill:"#000"}),
      Plot.frame({stroke:"#000",strokeWidth:2.3,strokeOpacity:1})
    ]
  });
  svg.style.left = (colLeft[col]-ML)+"px";
  svg.style.top = (rowTop[row]-MT)+"px";
  chart.appendChild(svg);
}
for(let r=0;r<2;r++) for(let c=0;c<4;c++) panel(r,c);

function label(text,x,y,size,bold,rot){
  const d=document.createElement("div");
  d.className="t"+(bold?" b":"");
  d.textContent=text;
  d.style.left=x+"px";d.style.top=y+"px";d.style.fontSize=size+"px";
  if(rot) d.style.transform="translate(-50%,-50%) rotate("+rot+"deg)";
  chart.appendChild(d);
}
label("Filtering Method",646,27,20.5,true);
colTitles.forEach((lines,i)=>{
  const cx=[220,512,804,1096][i];
  if(lines.length===2){label(lines[0],cx,55,20.5,true);label(lines[1],cx,77,20.5,true);}
  else label(lines[0],cx,78,20.5,true);
});
label("Rep. 1 Variant Score",22,370,20.8,false,-90);
label("Rep. 2 Variant Score",646,708,20.8,false);
label(rowTitles[0],1250,228,20.8,false,90);
label(rowTitles[1],1250,531,20.8,false,90);
</script></body></html>
